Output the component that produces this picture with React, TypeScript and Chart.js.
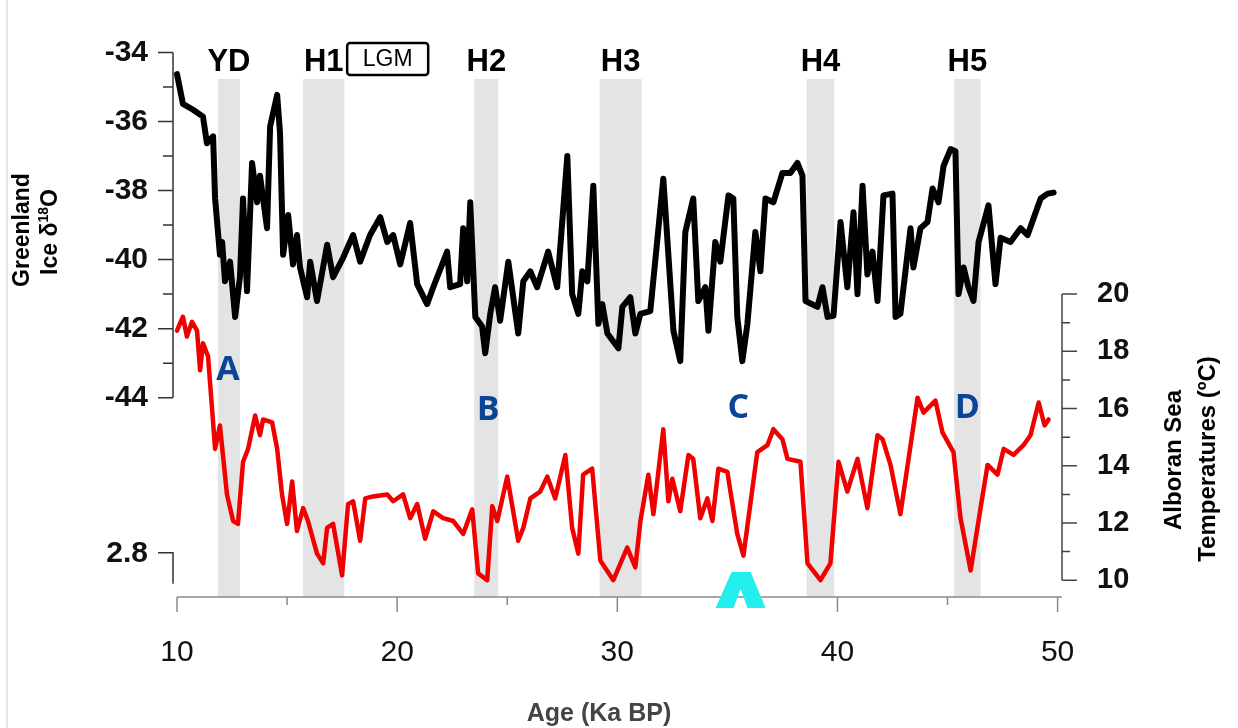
import React, { useEffect, useRef } from 'react';
import { Chart, registerables } from 'chart.js';

Chart.register(...registerables);

// ---------- data ----------
const iceAge = [10.00,10.27,10.73,11.18,11.36,11.64,11.73,11.95,12.05,12.18,12.41,12.64,12.86,13.00,13.18,13.41,13.64,13.77,14.09,14.23,14.55,14.68,14.82,15.05,15.27,15.45,15.59,15.91,16.05,16.36,16.82,17.09,17.55,18.00,18.32,18.77,19.23,19.55,19.82,20.14,20.59,20.91,21.36,21.64,22.27,22.41,22.86,23.00,23.18,23.32,23.55,23.86,24.00,24.23,24.45,24.68,25.05,25.50,25.73,26.05,26.36,26.86,27.27,27.73,27.95,28.23,28.41,28.64,28.91,29.14,29.32,29.55,30.05,30.23,30.59,30.82,31.05,31.50,32.09,32.55,32.86,33.09,33.45,33.68,34.00,34.14,34.45,34.68,35.05,35.27,35.45,35.68,35.91,36.27,36.50,36.73,37.09,37.50,37.86,38.18,38.41,38.55,39.09,39.32,39.55,39.82,40.14,40.45,40.73,40.91,41.14,41.36,41.59,41.82,42.09,42.50,42.64,42.86,43.32,43.45,43.77,44.09,44.32,44.59,44.82,45.14,45.36,45.50,45.73,45.95,46.18,46.41,46.86,47.18,47.41,47.86,48.32,48.64,48.91,49.23,49.55,49.82];
const iceD18O = [-34.63,-35.49,-35.66,-35.86,-36.63,-36.43,-38.23,-39.86,-39.49,-40.63,-40.06,-41.66,-40.51,-38.23,-40.91,-37.20,-38.34,-37.57,-39.09,-36.14,-35.23,-36.34,-39.86,-38.71,-40.14,-39.29,-40.23,-41.09,-40.06,-41.20,-39.57,-40.51,-39.94,-39.29,-40.06,-39.29,-38.77,-39.49,-39.29,-40.14,-38.94,-40.71,-41.29,-40.80,-39.77,-40.80,-40.71,-39.09,-40.63,-38.34,-41.66,-41.94,-42.71,-41.57,-40.80,-41.77,-40.06,-42.14,-40.63,-40.34,-40.80,-39.77,-40.80,-37.00,-41.00,-41.57,-40.34,-40.63,-37.86,-41.86,-41.29,-42.14,-42.57,-41.37,-41.09,-42.14,-41.57,-41.49,-37.66,-42.06,-42.94,-39.20,-38.23,-41.20,-40.80,-42.06,-39.49,-40.06,-38.14,-38.23,-41.66,-42.94,-41.86,-39.20,-40.34,-38.23,-38.34,-37.49,-37.49,-37.20,-37.57,-41.20,-41.37,-40.80,-41.66,-41.63,-38.91,-40.80,-38.63,-41.00,-37.86,-40.43,-39.77,-41.20,-38.14,-38.09,-41.66,-41.57,-39.09,-40.23,-39.09,-38.91,-37.94,-38.34,-37.29,-36.80,-36.86,-41.00,-40.23,-40.80,-41.20,-39.49,-38.43,-40.71,-39.37,-39.49,-39.09,-39.29,-38.80,-38.23,-38.09,-38.06];

const seaAge = [10.00,10.27,10.45,10.68,10.91,11.05,11.18,11.41,11.73,11.95,12.27,12.55,12.77,13.00,13.23,13.55,13.77,13.91,14.32,14.55,14.77,15.00,15.23,15.45,15.73,15.95,16.36,16.64,16.82,17.09,17.50,17.77,18.00,18.32,18.55,18.91,19.55,19.82,20.27,20.59,20.91,21.27,21.64,22.09,22.55,23.00,23.41,23.68,24.09,24.32,24.55,25.00,25.50,25.73,26.05,26.50,26.82,27.18,27.64,27.95,28.23,28.45,28.86,29.23,29.82,30.45,30.82,31.05,31.41,31.64,32.09,32.32,32.50,32.86,33.23,33.45,33.77,34.09,34.32,34.59,35.00,35.14,35.45,35.73,36.36,36.82,37.09,37.50,37.73,38.32,38.64,39.23,39.68,40.05,40.45,40.91,41.36,41.82,42.05,42.41,42.86,43.64,43.91,44.45,44.77,45.27,45.59,46.05,46.50,46.82,47.27,47.55,48.00,48.45,48.77,49.14,49.41,49.59];
const seaTemp = [18.72,19.21,18.52,19.03,18.72,17.34,18.28,17.83,14.59,15.41,13.00,12.07,11.97,14.14,14.59,15.76,15.07,15.62,15.52,14.59,13.00,11.97,13.45,11.72,12.52,12.07,10.93,10.59,11.83,11.97,10.17,12.66,12.76,11.38,12.86,12.93,13.00,12.76,13.00,12.17,12.66,11.45,12.41,12.17,12.07,11.62,12.48,10.24,10.00,12.59,12.07,13.62,11.38,11.83,12.86,13.10,13.62,12.86,14.38,11.83,10.93,13.69,13.90,10.69,10.00,11.14,10.45,12.07,13.69,12.31,15.28,12.76,13.55,12.41,14.38,14.24,12.17,12.86,12.07,13.90,13.79,13.10,11.62,10.86,14.48,14.72,15.28,14.93,14.24,14.14,10.59,10.00,10.59,14.14,13.10,14.24,12.52,15.07,14.93,14.03,12.31,16.38,15.86,16.28,15.17,14.48,12.17,10.34,12.52,14.03,13.69,14.59,14.38,14.72,15.07,16.21,15.41,15.62];

const eventLabels = ['YD', 'H1', 'H2', 'H3', 'H4', 'H5'];
const eventStart = [11.86, 15.73, 23.5, 29.2, 38.6, 45.3];
const eventEnd = [12.86, 17.6, 24.6, 31.1, 39.86, 46.5];

const lgmLabel = 'LGM';
const lgmStart = 17.73;
const lgmEnd = 21.41;

const xTicks = [10, 20, 30, 40, 50];
const xMinorTicks = [15, 25, 35, 45];
const leftTicks = [-34, -36, -38, -40, -42, -44];
const leftMinorTicks = [-35, -37, -39, -41, -43];
const rightTicks = [10, 12, 14, 16, 18, 20];
const rightMinorTicks = [11, 13, 15, 17, 19];

const strayLabel = '2.8';
const strayValue = -48.49;

const markerLetters = ['A', 'B', 'C', 'D'];
const markerAge = [12.32, 24.14, 35.5, 45.9];
const markerTemp = [17.34, 15.93, 16.0, 16.0];

const cyanMarkAge = 35.6;

// ---------- styles ----------
const SANS = '"Liberation Sans", Arial, Helvetica, sans-serif';
const BAND_TOP = 79;

const decorPlugin = {
  id: 'decor',
  beforeDraw(chart: any) {
    const { ctx, width, height } = chart;
    ctx.save();
    ctx.fillStyle = '#ffffff';
    ctx.fillRect(0, 0, width, height);
    ctx.strokeStyle = '#dddddd';
    ctx.lineWidth = 1.5;
    ctx.beginPath();
    ctx.moveTo(7, 0);
    ctx.lineTo(7, height);
    ctx.stroke();
    ctx.restore();
  },
  beforeDatasetsDraw(chart: any) {
    const { ctx, chartArea, scales } = chart;
    const x = scales.x;
    ctx.save();
    ctx.fillStyle = '#e4e4e4';
    eventStart.forEach((s, i) => {
      const x0 = x.getPixelForValue(s);
      const x1 = x.getPixelForValue(eventEnd[i]);
      ctx.fillRect(x0, BAND_TOP, x1 - x0, chartArea.bottom - BAND_TOP);
    });
    ctx.restore();
  },
  afterDatasetsDraw(chart: any) {
    const { ctx, chartArea, scales } = chart;
    const x = scales.x, y = scales.y, y2 = scales.y2;
    ctx.save();

    // left axis
    const lx = chartArea.left - 4;
    ctx.strokeStyle = '#333';
    ctx.lineWidth = 1.5;
    ctx.beginPath();
    ctx.moveTo(lx, y.getPixelForValue(leftTicks[0]));
    ctx.lineTo(lx, y.getPixelForValue(leftTicks[leftTicks.length - 1]));
    leftTicks.forEach((v) => {
      const p = y.getPixelForValue(v);
      ctx.moveTo(lx - 15, p);
      ctx.lineTo(lx, p);
    });
    leftMinorTicks.forEach((v) => {
      const p = y.getPixelForValue(v);
      ctx.moveTo(lx - 10, p);
      ctx.lineTo(lx, p);
    });
    // stray bracket
    const sp = y.getPixelForValue(strayValue);
    ctx.moveTo(lx - 15, sp);
    ctx.lineTo(lx, sp);
    ctx.lineTo(lx, sp + 31);
    ctx.stroke();

    ctx.fillStyle = '#111';
    ctx.font = `bold 30px ${SANS}`;
    ctx.textAlign = 'right';
    ctx.textBaseline = 'middle';
    ctx.fillText(strayLabel, 148, sp + 1);

    // bottom axis
    ctx.strokeStyle = '#8a8a8a';
    ctx.lineWidth = 1.5;
    ctx.beginPath();
    ctx.moveTo(x.getPixelForValue(10), chartArea.bottom);
    ctx.lineTo(chartArea.right, chartArea.bottom);
    xTicks.forEach((v) => {
      const p = x.getPixelForValue(v);
      ctx.moveTo(p, chartArea.bottom);
      ctx.lineTo(p, chartArea.bottom + 15);
    });
    xMinorTicks.forEach((v) => {
      const p = x.getPixelForValue(v);
      ctx.moveTo(p, chartArea.bottom);
      ctx.lineTo(p, chartArea.bottom + 8);
    });
    ctx.stroke();

    // right axis
    const rx = chartArea.right;
    ctx.strokeStyle = '#444';
    ctx.beginPath();
    ctx.moveTo(rx, y2.getPixelForValue(rightTicks[rightTicks.length - 1]));
    ctx.lineTo(rx, y2.getPixelForValue(rightTicks[0]));
    rightTicks.forEach((v) => {
      const p = y2.getPixelForValue(v);
      ctx.moveTo(rx, p);
      ctx.lineTo(rx + 15, p);
    });
    rightMinorTicks.forEach((v) => {
      const p = y2.getPixelForValue(v);
      ctx.moveTo(rx, p);
      ctx.lineTo(rx + 8, p);
    });
    ctx.stroke();

    // event labels
    ctx.fillStyle = '#000';
    ctx.font = `bold 31px ${SANS}`;
    ctx.textAlign = 'center';
    ctx.textBaseline = 'middle';
    eventLabels.forEach((t, i) => {
      const cx = (x.getPixelForValue(eventStart[i]) + x.getPixelForValue(eventEnd[i])) / 2;
      ctx.fillText(t, cx, 62);
    });

    // LGM box
    const bx0 = x.getPixelForValue(lgmStart);
    const bx1 = x.getPixelForValue(lgmEnd);
    ctx.lineWidth = 2.5;
    ctx.strokeStyle = '#000';
    ctx.beginPath();
    (ctx as any).roundRect ? (ctx as any).roundRect(bx0, 43, bx1 - bx0, 32, 3) : ctx.rect(bx0, 43, bx1 - bx0, 32);
    ctx.stroke();
    ctx.font = `23px ${SANS}`;
    ctx.fillText(lgmLabel, (bx0 + bx1) / 2, 60);

    // blue letters
    ctx.fillStyle = '#0b4596';
    ctx.font = `bold 34px "Open Sans", ${SANS}`;
    markerLetters.forEach((t, i) => {
      ctx.fillText(t, x.getPixelForValue(markerAge[i]), y2.getPixelForValue(markerTemp[i]));
    });

    // cyan mark
    const cx = x.getPixelForValue(cyanMarkAge);
    const top = 572, bot = 608;
    ctx.fillStyle = '#22eeee';
    ctx.beginPath();
    ctx.moveTo(cx - 25, bot);
    ctx.lineTo(cx - 9, top);
    ctx.lineTo(cx + 10, top);
    ctx.lineTo(cx + 25, bot);
    ctx.lineTo(cx + 7, bot);
    ctx.lineTo(cx, 589);
    ctx.lineTo(cx - 7, bot);
    ctx.closePath();
    ctx.fill();

    // axis titles
    ctx.fillStyle = '#000';
    ctx.font = `bold 23px ${SANS}`;
    ctx.save();
    ctx.translate(23, 230);
    ctx.rotate(-Math.PI / 2);
    ctx.fillText('Greenland', 0, 0);
    ctx.restore();

    ctx.save();
    ctx.translate(51, 232);
    ctx.rotate(-Math.PI / 2);
    ctx.textAlign = 'left';
    const big = `bold 23px ${SANS}`;
    const small = `bold 14px ${SANS}`;
    ctx.font = big;
    const w1 = ctx.measureText('Ice \u03B4').width;
    const w3 = ctx.measureText('O').width;
    ctx.font = small;
    const w2 = ctx.measureText('18').width;
    let sx = -(w1 + w2 + w3) / 2;
    ctx.font = big;
    ctx.fillText('Ice \u03B4', sx, 0);
    sx += w1;
    ctx.font = small;
    ctx.fillText('18', sx, -7);
    sx += w2;
    ctx.font = big;
    ctx.fillText('O', sx, 0);
    ctx.restore();

    ctx.font = `bold 24px ${SANS}`;
    ctx.save();
    ctx.translate(1174, 460);
    ctx.rotate(-Math.PI / 2);
    ctx.fillText('Alboran Sea', 0, 0);
    ctx.restore();
    ctx.save();
    ctx.translate(1208, 459);
    ctx.rotate(-Math.PI / 2);
    ctx.fillText('Temperatures (\u00BAC)', 0, 0);
    ctx.restore();

    ctx.fillStyle = '#444';
    ctx.font = `bold 25px ${SANS}`;
    ctx.fillText('Age (Ka BP)', 599, 714);

    ctx.restore();
  },
};

export default function App() {
  const ref = useRef<HTMLCanvasElement>(null);

  useEffect(() => {
    const canvas = ref.current;
    if (!canvas) return;
    const icePts = iceAge.map((a, i) => ({ x: a, y: iceD18O[i] }));
    const seaPts = seaAge.map((a, i) => ({ x: a, y: seaTemp[i] }));

    const chart = new Chart(canvas, {
      type: 'line',
      data: {
        datasets: [
          {
            label: 'Greenland Ice δ18O',
            data: icePts,
            yAxisID: 'y',
            borderColor: '#000000',
            borderWidth: 6,
            pointRadius: 0,
            tension: 0,
            borderJoinStyle: 'round',
            borderCapStyle: 'round',
            clip: false,
          },
          {
            label: 'Alboran Sea Temperatures',
            data: seaPts,
            yAxisID: 'y2',
            borderColor: '#f00000',
            borderWidth: 4.5,
            pointRadius: 0,
            tension: 0,
            borderJoinStyle: 'round',
            borderCapStyle: 'round',
            clip: false,
          },
        ],
      },
      options: {
        responsive: false,
        animation: false,
        events: [],
        layout: { padding: { top: 45, left: 0, right: 0, bottom: 0 } },
        plugins: { legend: { display: false }, tooltip: { enabled: false }, title: { display: false } },
        scales: {
          x: {
            type: 'linear',
            position: 'bottom',
            min: 10,
            max: 50.2,
            afterBuildTicks: (s: any) => { s.ticks = xTicks.map((v) => ({ value: v })); },
            afterFit: (s: any) => { s.height = 131; },
            grid: { display: false, drawTicks: false },
            border: { display: false },
            ticks: {
              autoSkip: false,
              maxRotation: 0,
              padding: 38,
              color: '#111',
              font: { family: SANS, size: 30 },
              callback: (v: any) => String(v),
            },
          },
          y: {
            type: 'linear',
            position: 'left',
            min: -49.771,
            max: -34,
            afterBuildTicks: (s: any) => { s.ticks = leftTicks.map((v) => ({ value: v })); },
            afterFit: (s: any) => { s.width = 177; },
            grid: { display: false, drawTicks: false },
            border: { display: false },
            ticks: {
              autoSkip: false,
              padding: 29,
              color: '#111',
              font: { family: SANS, size: 30, weight: 'bold' },
              callback: (v: any) => String(v),
            },
          },
          y2: {
            type: 'linear',
            position: 'right',
            min: 9.414,
            max: 28.448,
            afterBuildTicks: (s: any) => { s.ticks = rightTicks.map((v) => ({ value: v })); },
            afterFit: (s: any) => { s.width = 176; },
            grid: { display: false, drawTicks: false },
            border: { display: false },
            ticks: {
              autoSkip: false,
              padding: 35,
              color: '#111',
              font: { family: SANS, size: 29, weight: 'bold' },
              callback: (v: any) => String(v),
            },
          },
        },
      },
      plugins: [decorPlugin],
    } as any);

    return () => chart.destroy();
  }, []);

  return (
    <div style={{ position: 'fixed', left: 0, top: 0, width: 1238, height: 728, background: '#fff' }}>
      <canvas ref={ref} width={1238} height={728} style={{ display: 'block', width: 1238, height: 728 }} />
    </div>
  );
}
